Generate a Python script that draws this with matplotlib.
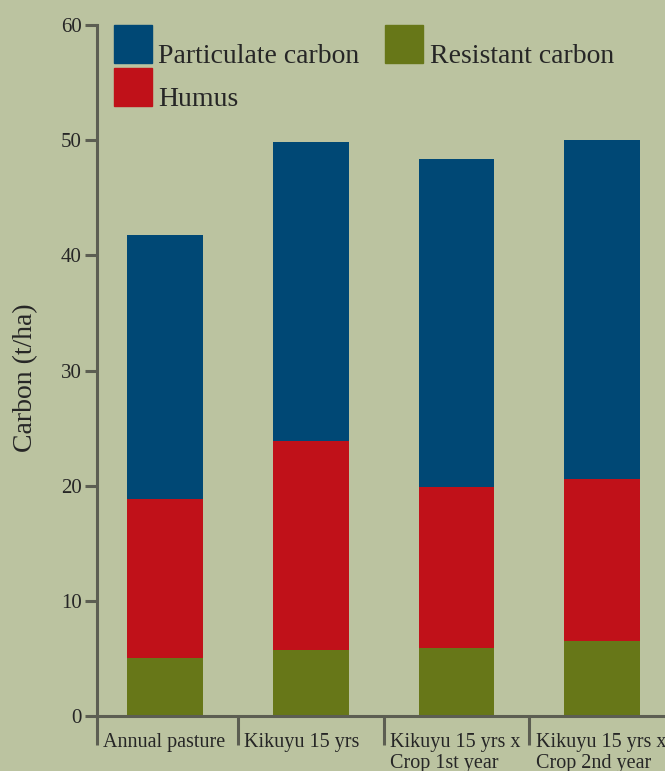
import matplotlib
matplotlib.use("Agg")
import matplotlib.pyplot as plt
from matplotlib.patches import Rectangle
import numpy as np

categories = ["Annual pasture", "Kikuyu 15 yrs", "Kikuyu 15 yrs x\nCrop 1st year", "Kikuyu 15 yrs x\nCrop 2nd year"]
resistant = [5.0, 5.7, 5.9, 6.5]
humus = [13.8, 18.15, 14.0, 14.05]
particulate = [23.0, 25.95, 28.5, 29.45]
yticks = [0, 10, 20, 30, 40, 50, 60]

BG = "#bbc3a0"
BLUE = "#004875"
RED = "#c01119"
GREEN = "#677718"
AXC = "#5c5e52"
TXT = "#262626"
FONT = ["Liberation Serif", "DejaVu Serif"]

plt.rcParams["font.family"] = FONT

fig = plt.figure(figsize=(6.65, 7.71), dpi=100, facecolor=BG)
W, H = 665, 771
ax = fig.add_axes([97 / W, (H - 716) / H, (W - 97) / W, (716 - 25) / H])
ax.set_facecolor(BG)

x = np.arange(len(categories))
bw = 0.52
r = np.array(resistant)
h = np.array(humus)
p = np.array(particulate)
ax.bar(x, r, bw, color=GREEN, zorder=2)
ax.bar(x, h, bw, bottom=r, color=RED, zorder=2)
ax.bar(x, p, bw, bottom=r + h, color=BLUE, zorder=2)

xl = -0.467
ax.set_xlim(xl, xl + (W - 97) / 145.7)
ax.set_ylim(0, 60)

for s in ["top", "right"]:
    ax.spines[s].set_visible(False)
for s in ["left", "bottom"]:
    ax.spines[s].set_color(AXC)
    ax.spines[s].set_linewidth(2.2)
    ax.spines[s].set_zorder(3)

ax.set_yticks(yticks)
ax.set_yticklabels([str(v) for v in yticks], fontsize=15, color=TXT)
ax.tick_params(axis="y", length=9, width=2.2, color=AXC, pad=2)

bounds = [xl] + [i - 0.5 for i in range(1, len(categories))]
ax.set_xticks(bounds)
ax.set_xticklabels([])
ax.tick_params(axis="x", length=21, width=2.2, color=AXC)

for b, lab in zip(bounds, categories):
    ax.annotate(lab, xy=(b, 0), xycoords=("data", "axes fraction"),
                xytext=(4.5, -12), textcoords="offset points",
                ha="left", va="top", fontsize=14.5, color=TXT,
                linespacing=1.2, annotation_clip=False)

ax.set_ylabel("Carbon (t/ha)", fontsize=20, color=TXT)
ax.yaxis.set_label_coords((38 - 97) / (W - 97), 0.49)

# legend drawn manually
series = [("Particulate carbon", BLUE, 114, 25, 158),
          ("Humus", RED, 114, 68, 158),
          ("Resistant carbon", GREEN, 385, 25, 430)]
for name, col, sx, sy, tx in series:
    fig.patches.append(Rectangle((sx / W, 1 - (sy + 38) / H), 38 / W, 38 / H,
                                 transform=fig.transFigure, color=col, zorder=5))
    fig.text(tx / W, 1 - (sy + 38) / H, name, fontsize=20, color=TXT,
             ha="left", va="baseline")

fig.savefig("out.png", dpi=100, facecolor=BG)
